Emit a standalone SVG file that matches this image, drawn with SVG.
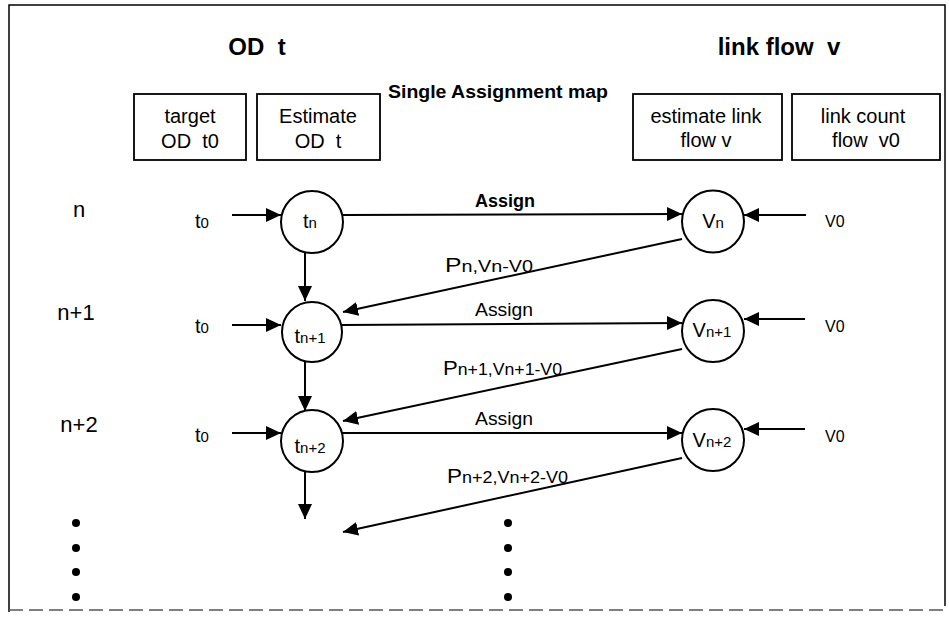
<svg xmlns="http://www.w3.org/2000/svg" width="949" height="617" viewBox="0 0 949 617">
<defs>
<marker id="ah" markerUnits="userSpaceOnUse" markerWidth="16" markerHeight="15" refX="15" refY="7" orient="auto">
<path d="M0,0 L15,7 L0,14 z" fill="#000"/>
</marker>
<style>
text{font-family:"Liberation Sans",Arial,sans-serif;fill:#000;white-space:pre}
.title{font-size:24px;font-weight:bold}
.box{fill:#fff;stroke:#000;stroke-width:1.8}
.bt{font-size:20px;text-anchor:middle}
.node{fill:#fff;stroke:#000;stroke-width:2}
.nl{font-size:20px;text-anchor:middle}
.sub{font-size:15px}
.conn line{stroke:#000;stroke-width:2}
.arr{marker-end:url(#ah)}
.row{font-size:22px;text-anchor:middle}
.dot{fill:#000}
</style>
</defs>
<rect width="949" height="617" fill="#fff"/>
<path d="M9,612 L9,5 L945,5 L945,606" fill="none" stroke="#000" stroke-width="1.5"/>
<line x1="9" y1="610" x2="945" y2="610" stroke="#555" stroke-width="1.5" stroke-dasharray="14,6"/>

<text class="title" x="257" y="55" text-anchor="middle">OD  t</text>
<text class="title" x="779" y="55" text-anchor="middle" font-size="23">link flow  v</text>
<text x="388" y="98" font-size="18" font-weight="bold" textLength="220" lengthAdjust="spacingAndGlyphs">Single Assignment map</text>

<g id="box-target"><rect class="box" x="134" y="94" width="112" height="66"/><text class="bt" x="190" y="123">target</text><text class="bt" x="190" y="148">OD  t0</text></g>
<g id="box-estimate"><rect class="box" x="257" y="94" width="123" height="66"/><text class="bt" x="318" y="123">Estimate</text><text class="bt" x="318" y="148">OD  t</text></g>
<g id="box-estlink"><rect class="box" x="633" y="94" width="149" height="66"/><text class="bt" x="706" y="123">estimate link</text><text class="bt" x="706" y="147">flow v</text></g>
<g id="box-count"><rect class="box" x="792" y="94" width="148" height="66"/><text class="bt" x="863" y="123">link count</text><text class="bt" x="866" y="147">flow  v0</text></g>

<g id="row-labels">
<text class="row" x="79" y="217">n</text>
<text class="row" x="76" y="320">n+1</text>
<text class="row" x="79" y="432">n+2</text>
</g>

<g id="t0-labels">
<text x="195" y="228" font-size="20">t<tspan class="sub">0</tspan></text>
<text x="195" y="333" font-size="20">t<tspan class="sub">0</tspan></text>
<text x="195" y="442" font-size="20">t<tspan class="sub">0</tspan></text>
</g>
<g id="v0-labels">
<text x="825" y="227" font-size="16">V0</text>
<text x="825" y="332" font-size="16">V0</text>
<text x="825" y="442" font-size="16">V0</text>
</g>

<g class="conn" id="connectors">
<line class="arr" x1="232" y1="215" x2="281" y2="215"/>
<line class="arr" x1="232" y1="325" x2="281" y2="325"/>
<line class="arr" x1="232" y1="433" x2="281" y2="433"/>
<line class="arr" x1="343" y1="215" x2="682" y2="214"/>
<line class="arr" x1="342" y1="325" x2="682" y2="323"/>
<line class="arr" x1="342" y1="433" x2="682" y2="433"/>
<line class="arr" x1="806" y1="215" x2="744" y2="215"/>
<line class="arr" x1="805" y1="319" x2="744" y2="319"/>
<line class="arr" x1="805" y1="429" x2="744" y2="429"/>
<line class="arr" x1="305" y1="253" x2="305" y2="301"/>
<line class="arr" x1="305" y1="362" x2="305" y2="411"/>
<line class="arr" x1="305" y1="472" x2="305" y2="519"/>
<line class="arr" x1="682" y1="239" x2="343" y2="312"/>
<line class="arr" x1="682" y1="349" x2="343" y2="421"/>
<line class="arr" x1="682" y1="458" x2="343" y2="532"/>
</g>

<g id="edge-labels">
<text x="475" y="207" font-size="18" font-weight="bold" textLength="60" lengthAdjust="spacingAndGlyphs">Assign</text>
<text x="475" y="316" font-size="19" textLength="58" lengthAdjust="spacingAndGlyphs">Assign</text>
<text x="475" y="425" font-size="19" textLength="58" lengthAdjust="spacingAndGlyphs">Assign</text>
<text x="445" y="272" font-size="20" textLength="88" lengthAdjust="spacingAndGlyphs">P<tspan font-size="16">n,Vn-V0</tspan></text>
<text x="443" y="375" font-size="20" textLength="119" lengthAdjust="spacingAndGlyphs">P<tspan font-size="16">n+1,Vn+1-V0</tspan></text>
<text x="447" y="483" font-size="20" textLength="121" lengthAdjust="spacingAndGlyphs">P<tspan font-size="16">n+2,Vn+2-V0</tspan></text>
</g>

<g id="node-tn"><circle class="node" cx="312" cy="222" r="31"/><text class="nl" x="310" y="228">t<tspan class="sub">n</tspan></text></g>
<g id="node-tn1"><circle class="node" cx="312" cy="332" r="30"/><text class="nl" x="310" y="343">t<tspan class="sub">n+1</tspan></text></g>
<g id="node-tn2"><circle class="node" cx="312" cy="441" r="31"/><text class="nl" x="310" y="453">t<tspan class="sub">n+2</tspan></text></g>
<g id="node-vn"><circle class="node" cx="713" cy="221.5" r="31"/><text class="nl" x="713" y="228" font-size="18">V<tspan class="sub">n</tspan></text></g>
<g id="node-vn1"><circle class="node" cx="713" cy="331" r="31"/><text class="nl" x="712" y="337" font-size="18">V<tspan class="sub">n+1</tspan></text></g>
<g id="node-vn2"><circle class="node" cx="713" cy="440" r="31"/><text class="nl" x="712" y="447" font-size="18">V<tspan class="sub">n+2</tspan></text></g>

<g id="dots">
<circle class="dot" cx="76" cy="523" r="4"/><circle class="dot" cx="76" cy="548" r="4"/><circle class="dot" cx="76" cy="572" r="4"/><circle class="dot" cx="76" cy="597" r="4"/>
<circle class="dot" cx="508" cy="523" r="4"/><circle class="dot" cx="508" cy="548" r="4"/><circle class="dot" cx="508" cy="572" r="4"/><circle class="dot" cx="508" cy="597" r="4"/>
</g>
</svg>
